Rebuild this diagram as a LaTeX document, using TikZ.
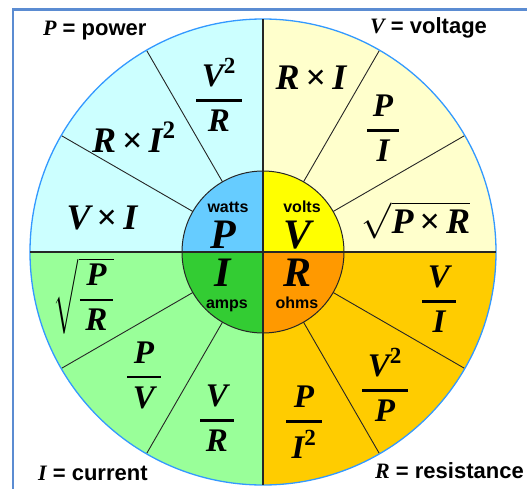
\RequirePackage{fix-cm}
\documentclass[tikz,border=0pt]{standalone}
\usepackage{amsmath}
\usepackage{fontspec}
\setmainfont{Liberation Serif}
\setsansfont{Liberation Sans}
\usetikzlibrary{positioning}
\definecolor{pOut}{HTML}{CCFFFF}
\definecolor{pIn}{HTML}{66CCFF}
\definecolor{vOut}{HTML}{FFFFCC}
\definecolor{vIn}{HTML}{FFFF00}
\definecolor{iOut}{HTML}{99FF99}
\definecolor{iIn}{HTML}{33CC33}
\definecolor{rOut}{HTML}{FFCC00}
\definecolor{rIn}{HTML}{FF9900}
\definecolor{rimBlue}{HTML}{3399FF}
\definecolor{frameBlue}{HTML}{5B8CD2}
\newcommand{\vb}[1]{\text{\bfseries\itshape #1}}
\newcommand{\tw}{\text{\bfseries 2}}
\newcommand{\tms}{\mathord{\,\text{\bfseries\upshape ×}\,}}
\newcommand{\ohmfrac}[2]{\genfrac{}{}{2.6pt}{0}{\,#1\,}{\,#2\,}}

\begin{document}
\begin{tikzpicture}[
    x=1pt, y=1pt,
    frameln/.style  = {draw=frameBlue, line width=2.5pt},
    rimln/.style    = {draw=rimBlue, line width=1.3pt},
    spoke/.style    = {draw=black!85, line width=0.9pt},
    quadln/.style   = {draw=black!85, line width=1.6pt},
    hubln/.style    = {draw=black!85, line width=1pt},
    fml/.style      = {font=\fontsize{33}{40}\selectfont, inner sep=0pt},
    inl/.style      = {font=\fontsize{36}{43}\selectfont, inner sep=0pt},
    hubvar/.style   = {font=\bfseries\itshape\fontsize{42}{50}\selectfont, inner sep=0pt, anchor=base, text depth=0pt},
    hubunit/.style  = {font=\sffamily\bfseries\fontsize{16}{19}\selectfont, inner sep=0pt, anchor=base},
    keylbl/.style   = {font=\sffamily\bfseries\fontsize{22}{26}\selectfont, anchor=base west, inner sep=0pt}
  ]
  \useasboundingbox (-263,-236) rectangle (264,252);
  \fill[white] (-263,-236) rectangle (264,252);
  \draw[frameln] (-250,-300) -- (-250,242.5) -- (300,242.5);

  % quadrants, outer ring and hub
  \foreach \a/\co/\ci in {0/vOut/vIn, 90/pOut/pIn, 180/iOut/iIn, 270/rOut/rIn}{
    \fill[\co] (0,0) -- (\a:233) arc[start angle=\a, end angle=\a+90, radius=233] -- cycle;
    \fill[\ci] (0,0) -- (\a:81) arc[start angle=\a, end angle=\a+90, radius=81] -- cycle;
  }
  \foreach \a in {30,60,120,150,210,240,300,330}{
    \draw[spoke] (\a:81) -- (\a:233);
  }
  \draw[rimln] (0,0) circle[radius=233];
  \draw[hubln] (0,0) circle[radius=81];
  \draw[quadln] (0,233) -- (0,-233);
  \draw[quadln] (-233,0) -- (233,0);

  \node[hubunit] (wattsU) at (-35,40)  {watts};
  \node[hubvar]  (pHub)   at (-40,4)   {P};
  \node[hubunit] (voltsU) at (39,40)   {volts};
  \node[hubvar]  (vHub)   at (35,4)    {V};
  \node[hubvar]  (iHub)   at (-40,-34) {I};
  \node[hubunit] (ampsU)  at (-36,-56) {amps};
  \node[hubvar]  (rHub)   at (35,-34)  {R};
  \node[hubunit] (ohmsU)  at (34,-56)  {ohms};

  % power
  \node[fml] (pA) at (-44,157)  {$\ohmfrac{\vb{V}^{\tw}}{\vb{R}}$};
  \node[inl] (pB) at (-129,115) {$\vb{R}\tms\vb{I}^{\tw}$};
  \node[inl] (pC) at (-161,34)  {$\vb{V}\tms\vb{I}$};
  % voltage
  \node[inl] (vA) at (48,174)   {$\vb{R}\tms\vb{I}$};
  \node[fml] (vB) at (120,124)  {$\ohmfrac{\vb{P}}{\vb{I}}$};
  \node[inl] (vC) at (153,32)   {$\sqrt{\vb{P}\tms\vb{R}}$};
  % current
  \node[fml] (iA) at (-179,-44) {$\sqrt{\ohmfrac{\vb{P}}{\vb{R}}}$};
  \node[fml] (iB) at (-119,-123) {$\ohmfrac{\vb{P}}{\vb{V}}$};
  \node[fml] (iC) at (-46,-166) {$\ohmfrac{\vb{V}}{\vb{R}}$};
  % resistance
  \node[fml] (rA) at (176,-47)  {$\ohmfrac{\vb{V}}{\vb{I}}$};
  \node[fml] (rB) at (122,-133) {$\ohmfrac{\vb{V}^{\tw}}{\vb{P}}$};
  \node[fml] (rC) at (41,-170)  {$\ohmfrac{\vb{P}}{\vb{I}^{\tw}}$};

  \node[keylbl] (pKey) at (-220,217) {{\rmfamily\itshape P} = power};
  \node[keylbl] (vKey) at (107,219)  {{\rmfamily\itshape V} = voltage};
  \node[keylbl] (iKey) at (-225,-228) {{\rmfamily\itshape I} = current};
  \node[keylbl] (rKey) at (112,-226) {{\rmfamily\itshape R} = resistance};
\end{tikzpicture}
\end{document}
